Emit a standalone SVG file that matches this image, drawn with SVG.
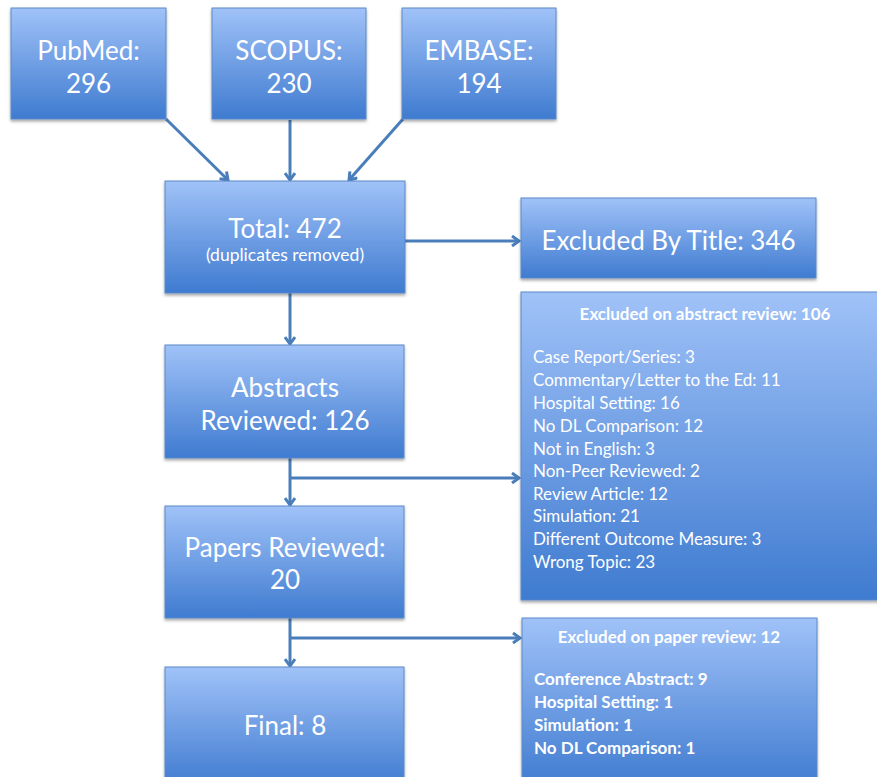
<svg xmlns="http://www.w3.org/2000/svg" width="877" height="777" viewBox="0 0 877 777">
<defs>
<linearGradient id="g" x1="0" y1="0" x2="0" y2="1">
<stop offset="0" stop-color="#a0c2f8"/>
<stop offset="1" stop-color="#3f7bd0"/>
</linearGradient>
<filter id="sh" x="-5%" y="-5%" width="110%" height="115%">
<feDropShadow dx="0" dy="2" stdDeviation="1.5" flood-color="#000" flood-opacity="0.35"/>
</filter>
<marker id="ah" markerWidth="12" markerHeight="12" refX="9" refY="6" orient="auto" markerUnits="userSpaceOnUse">
<path d="M2,1 L9,6 L2,11" fill="none" stroke="#4a7ebb" stroke-width="3"/>
</marker>
<style>
.box{fill:url(#g);stroke:#5b89c8;stroke-width:1;filter:url(#sh)}
.t{font-family:Lato,"Liberation Sans",sans-serif;fill:#fff;text-anchor:middle;font-size:26px}
.s{font-family:Lato,"Liberation Sans",sans-serif;fill:#fff;font-size:17px}
.b{font-family:Lato,"Liberation Sans",sans-serif;fill:#fff;font-size:17px;font-weight:bold}
.c{stroke:#4a7ebb;stroke-width:3;fill:none}
</style>
</defs>
<g id="connectors">
<line class="c" x1="166" y1="119" x2="228" y2="180" marker-end="url(#ah)"/>
<line class="c" x1="290" y1="120" x2="290" y2="180" marker-end="url(#ah)"/>
<line class="c" x1="403" y1="119" x2="349" y2="180" marker-end="url(#ah)"/>
<line class="c" x1="405" y1="241" x2="519" y2="241" marker-end="url(#ah)"/>
<line class="c" x1="290" y1="293" x2="290" y2="344" marker-end="url(#ah)"/>
<line class="c" x1="290" y1="458" x2="290" y2="505" marker-end="url(#ah)"/>
<line class="c" x1="290" y1="478" x2="519" y2="478" marker-end="url(#ah)"/>
<line class="c" x1="290" y1="618" x2="290" y2="666" marker-end="url(#ah)"/>
<line class="c" x1="290" y1="638" x2="520" y2="638" marker-end="url(#ah)"/>
</g>
<g id="pubmed"><rect class="box" x="11" y="8" width="155" height="111"/>
<text class="t" x="88.5" y="60">PubMed:</text><text class="t" x="88.5" y="93">296</text></g>
<g id="scopus"><rect class="box" x="212" y="8" width="154" height="111"/>
<text class="t" x="289" y="60">SCOPUS:</text><text class="t" x="289" y="93">230</text></g>
<g id="embase"><rect class="box" x="402" y="8" width="154" height="111"/>
<text class="t" x="479" y="60">EMBASE:</text><text class="t" x="479" y="93">194</text></g>
<g id="total"><rect class="box" x="165" y="181" width="240" height="112"/>
<text class="t" x="285" y="238">Total: 472</text>
<text class="t" x="285" y="261" style="font-size:17.5px">(duplicates removed)</text></g>
<g id="excluded-title"><rect class="box" x="521" y="198" width="295" height="80"/>
<text class="t" x="668.5" y="250">Excluded By Title: 346</text></g>
<g id="abstracts"><rect class="box" x="165" y="345" width="239" height="113"/>
<text class="t" x="285" y="397">Abstracts</text><text class="t" x="285" y="430">Reviewed: 126</text></g>
<g id="excluded-abstract"><rect class="box" x="521" y="292" width="360" height="308"/>
<text class="b" x="705" y="320" text-anchor="middle">Excluded on abstract review: 106</text>
<text class="s" x="533" y="363">Case Report/Series: 3</text>
<text class="s" x="533" y="386">Commentary/Letter to the Ed: 11</text>
<text class="s" x="533" y="409">Hospital Setting: 16</text>
<text class="s" x="533" y="432">No DL Comparison: 12</text>
<text class="s" x="533" y="455">Not in English: 3</text>
<text class="s" x="533" y="477">Non-Peer Reviewed: 2</text>
<text class="s" x="533" y="500">Review Article: 12</text>
<text class="s" x="533" y="522">Simulation: 21</text>
<text class="s" x="533" y="545">Different Outcome Measure: 3</text>
<text class="s" x="533" y="568">Wrong Topic: 23</text></g>
<g id="papers"><rect class="box" x="165" y="506" width="239" height="112"/>
<text class="t" x="285" y="557">Papers Reviewed:</text><text class="t" x="285" y="589">20</text></g>
<g id="final"><rect class="box" x="165" y="667" width="239" height="120"/>
<text class="t" x="285" y="735">Final: 8</text></g>
<g id="excluded-paper"><rect class="box" x="522" y="618" width="295" height="170"/>
<text class="b" x="669" y="643" text-anchor="middle">Excluded on paper review: 12</text>
<text class="b" x="534" y="685">Conference Abstract: 9</text>
<text class="b" x="534" y="708">Hospital Setting: 1</text>
<text class="b" x="534" y="731">Simulation: 1</text>
<text class="b" x="534" y="754">No DL Comparison: 1</text></g>
</svg>
